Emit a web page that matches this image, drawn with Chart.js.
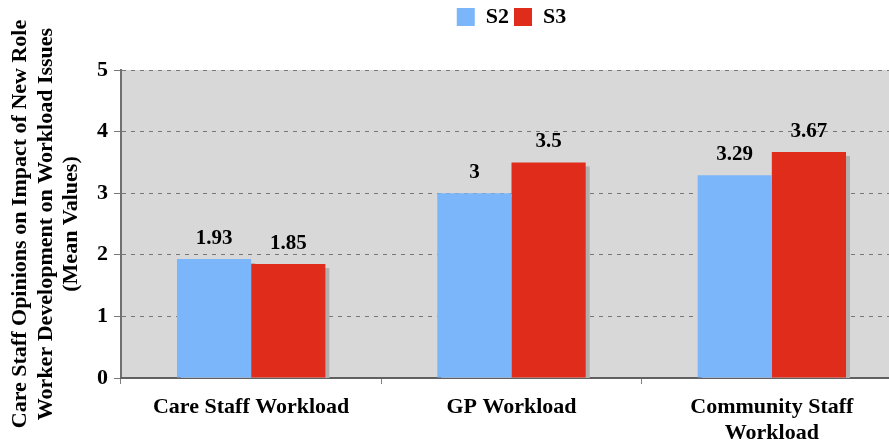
<!DOCTYPE html>
<html>
<head>
<meta charset="utf-8">
<script src="https://cdn.jsdelivr.net/npm/chart.js@4/dist/chart.umd.min.js"></script>
<style>
  html, body { margin: 0; padding: 0; background: #fff; overflow: hidden; }
  #wrap { position: relative; width: 902px; height: 446px; }
</style>
</head>
<body>
<div id="wrap"><canvas id="grafico"></canvas></div>
<script>
const categorias = [['Care Staff Workload'], ['GP Workload'], ['Community Staff', 'Workload']];
const valoresS2 = [1.93, 3, 3.29];
const valoresS3 = [1.85, 3.5, 3.67];
const tituloY = ['Care Staff Opinions on Impact of New Role', 'Worker Development on Workload Issues', '(Mean Values)'];

const fonte = 'Liberation Serif';

// espaco extra abaixo da legenda e legenda centrada na area do grafico
const legendaPlugin = {
    id: 'legendaAltura',
    beforeInit(chart) {
        const fitOriginal = chart.legend.fit;
        chart.legend.fit = function () {
            fitOriginal.bind(chart.legend)();
            this.height += 29;
        };
    },
    afterLayout(chart) {
        chart.legend.left = chart.chartArea.left;
        chart.legend.right = chart.chartArea.right;
        chart.legend.top -= 3;
    }
};

// fundo cinza da area do grafico
const fundoPlugin = {
    id: 'fundo',
    beforeDraw(chart) {
        const a = chart.chartArea;
        const ctx = chart.ctx;
        ctx.save();
        ctx.fillStyle = '#d8d8d8';
        ctx.fillRect(a.left, a.top, a.right - a.left, a.bottom - a.top);
        ctx.restore();
    }
};

// sombra cinza atras das barras (desenhada antes das barras)
const sombraPlugin = {
    id: 'sombra',
    beforeDatasetsDraw(chart) {
        const a = chart.chartArea;
        const ctx = chart.ctx;
        ctx.save();
        ctx.beginPath();
        ctx.rect(a.left, a.top, a.right - a.left, a.bottom - a.top);
        ctx.clip();
        ctx.fillStyle = '#b0b0b0';
        chart.data.datasets.forEach((ds, i) => {
            chart.getDatasetMeta(i).data.forEach(bar => {
                const w = bar.width;
                ctx.fillRect(bar.x - w / 2 + 4, bar.y + 4, w, bar.base - bar.y);
            });
        });
        ctx.restore();
    }
};

// rotulos com os valores acima das barras
const rotulosPlugin = {
    id: 'rotulos',
    afterDatasetsDraw(chart) {
        const ctx = chart.ctx;
        ctx.save();
        ctx.font = 'bold 21px "' + fonte + '"';
        ctx.fillStyle = '#000';
        ctx.textAlign = 'center';
        ctx.textBaseline = 'alphabetic';
        chart.data.datasets.forEach((ds, i) => {
            chart.getDatasetMeta(i).data.forEach((bar, j) => {
                ctx.fillText(String(ds.data[j]), bar.x, bar.y - 15);
            });
        });
        ctx.restore();
    }
};

new Chart(document.getElementById('grafico'), {
    type: 'bar',
    data: {
        labels: categorias,
        datasets: [{
            label: 'S2',
            data: valoresS2,
            backgroundColor: '#7cb6fa',
            borderWidth: 0
        }, {
            label: 'S3',
            data: valoresS3,
            backgroundColor: '#e02c1a',
            borderWidth: 0
        }]
    },
    options: {
        responsive: true,
        maintainAspectRatio: false,
        animation: false,
        layout: { padding: { top: 4, left: 0, right: 0, bottom: 0 } },
        datasets: {
            bar: { categoryPercentage: 0.57, barPercentage: 1 }
        },
        scales: {
            y: {
                min: 0,
                max: 5,
                afterFit(scale) { scale.width = 121; },
                ticks: {
                    stepSize: 1,
                    color: '#000',
                    padding: 6,
                    font: { family: fonte, size: 22, weight: 'bold' }
                },
                grid: {
                    color: '#777',
                    lineWidth: 1,
                    tickLength: 7
                },
                border: { color: '#707070', width: 2, dash: [4, 5] },
                title: {
                    display: true,
                    text: tituloY,
                    color: '#000',
                    font: { family: fonte, size: 22, weight: 'bold', lineHeight: 1.15 },
                    padding: { top: 8, bottom: 4 }
                }
            },
            x: {
                afterFit(scale) { scale.height = 68; },
                ticks: {
                    color: '#000',
                    padding: 11,
                    maxRotation: 0,
                    font: { family: fonte, size: 22, weight: 'bold', lineHeight: 1.15 }
                },
                grid: {
                    drawOnChartArea: false,
                    color: '#808080',
                    tickLength: 6
                },
                border: { color: '#606060', width: 2 }
            }
        },
        plugins: {
            legend: {
                position: 'top',
                labels: {
                    color: '#000',
                    boxWidth: 18,
                    boxHeight: 18,
                    padding: 5,
                    font: { family: fonte, size: 22, weight: 'bold' }
                }
            },
            tooltip: { enabled: false }
        }
    },
    plugins: [legendaPlugin, fundoPlugin, sombraPlugin, rotulosPlugin]
});
</script>
</body>
</html>
